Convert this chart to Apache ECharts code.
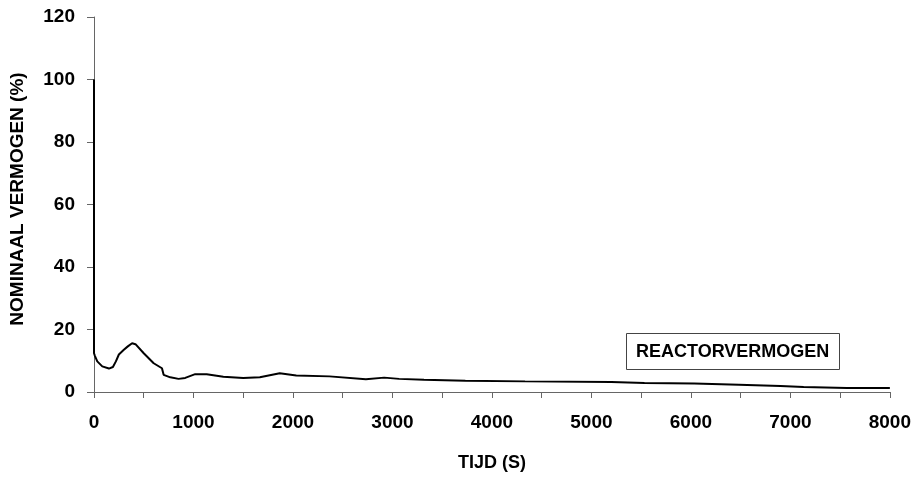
<!DOCTYPE html>
<html>
<head>
<meta charset="utf-8">
<title>Reactorvermogen</title>
<script src="https://cdn.jsdelivr.net/npm/echarts@6/dist/echarts.min.js"></script>
<style>
  html, body { margin: 0; padding: 0; background: #fff; }
  #chart { width: 914px; height: 477px; }
</style>
</head>
<body>
<div id="chart"></div>
<script>
// Reactor power after trip, percent of nominal, against time in seconds
const timeS = [0, 0, 10, 33, 83, 150, 190, 220, 250, 300, 340, 383, 417, 500, 600, 683, 700, 767, 850, 917,
  1017, 1133, 1300, 1500, 1667, 1867, 2033, 2367, 2733, 2917, 3067, 3317, 3733, 4333, 5200, 5533,
  6033, 6483, 6900, 7133, 7567, 8000];
const powerPct = [100, 12.4, 11.5, 9.8, 8.2, 7.5, 8.0, 9.8, 12.0, 13.5, 14.6, 15.6, 15.3, 12.4, 9.2, 7.6, 5.5, 4.7, 4.2, 4.5,
  5.7, 5.7, 4.9, 4.5, 4.7, 6.0, 5.3, 5.0, 4.1, 4.6, 4.2, 3.9, 3.6, 3.4, 3.2, 2.9,
  2.7, 2.3, 1.9, 1.6, 1.3, 1.3];

const seriesName = 'REACTORVERMOGEN';
const xTitle = 'TIJD (S)';
const yTitle = 'NOMINAAL VERMOGEN (%)';

const FONT = "'Liberation Sans', Arial, sans-serif";
const AXIS_GREY = '#666';

const chart = echarts.init(document.getElementById('chart'), null, { renderer: 'canvas' });

chart.setOption({
  animation: false,
  backgroundColor: '#fff',
  title: {
    text: seriesName,
    left: 626,
    top: 333,
    padding: [10, 10, 9, 10],
    borderColor: '#444',
    borderWidth: 1,
    backgroundColor: '#fff',
    textStyle: { fontFamily: FONT, fontSize: 18, fontWeight: 'bold', color: '#000' }
  },
  grid: { left: 90, right: 24, top: 17, bottom: 83, containLabel: false },
  xAxis: {
    type: 'value',
    min: 0,
    max: 8000,
    interval: 500,
    name: xTitle,
    nameLocation: 'middle',
    nameGap: 62,
    nameTextStyle: { fontFamily: FONT, fontSize: 18, fontWeight: 'bold', color: '#000' },
    axisLine: { show: true, onZero: false, lineStyle: { color: AXIS_GREY, width: 1 } },
    axisTick: { show: true, inside: false, length: 6, lineStyle: { color: AXIS_GREY } },
    axisLabel: {
      margin: 21,
      fontFamily: FONT, fontSize: 19, fontWeight: 'bold', color: '#000',
      formatter: v => (v % 1000 === 0 ? String(v) : '')
    },
    splitLine: { show: false }
  },
  yAxis: {
    type: 'value',
    min: 0,
    max: 120,
    interval: 20,
    name: yTitle,
    nameLocation: 'middle',
    nameRotate: 90,
    nameGap: 67,
    nameTextStyle: { fontFamily: FONT, fontSize: 19, fontWeight: 'bold', color: '#000', padding: [0, 0, 0, 11] },
    axisLine: { show: true, lineStyle: { color: AXIS_GREY, width: 1 } },
    axisTick: { show: true, inside: false, length: 7, lineStyle: { color: AXIS_GREY } },
    axisLabel: { margin: 19, fontFamily: FONT, fontSize: 19, fontWeight: 'bold', color: '#000' },
    splitLine: { show: false }
  },
  series: [{
    name: seriesName,
    type: 'line',
    data: timeS.map((t, i) => [t, powerPct[i]]),
    showSymbol: false,
    symbol: 'none',
    smooth: false,
    lineStyle: { color: '#000', width: 2 },
    clip: true
  }]
});
</script>
</body>
</html>
